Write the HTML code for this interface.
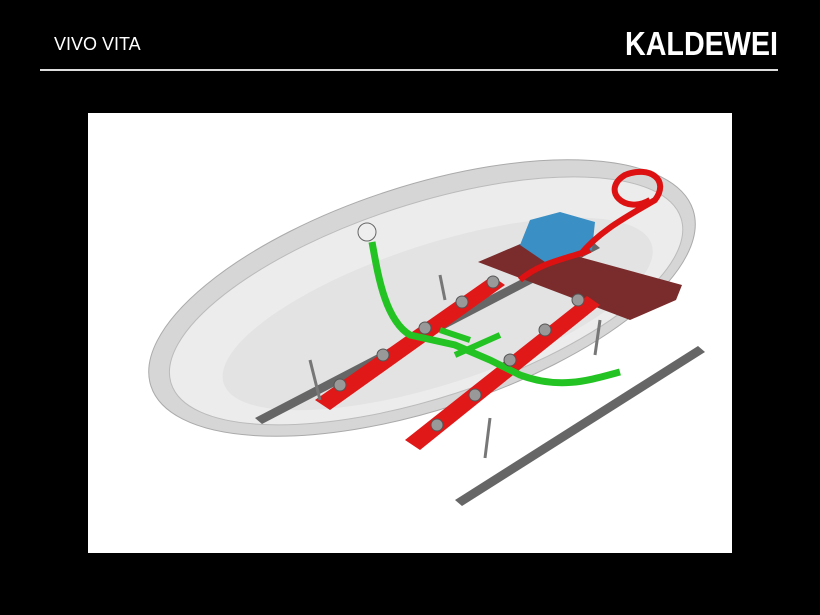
<!DOCTYPE html>
<html><head><style>
html,body{margin:0;padding:0;background:#000;}
</style></head><body>
<svg width="820" height="615" viewBox="0 0 820 615" xmlns="http://www.w3.org/2000/svg" style="display:block">
<rect width="820" height="615" fill="#000"/>
<text x="54" y="50" fill="#fff" font-family="Liberation Sans, sans-serif" font-size="18">VIVO VITA</text>
<text x="625" y="55" fill="#fff" font-family="Liberation Sans, sans-serif" font-weight="bold" font-size="33" textLength="153" lengthAdjust="spacingAndGlyphs">KALDEWEI</text>
<rect x="40" y="69" width="738" height="2" fill="#ddd"/>
<rect x="88" y="113" width="644" height="440" fill="#fff"/>
<!-- tub -->
<g transform="rotate(-18 422 298)">
<ellipse cx="422" cy="298" rx="285" ry="112" fill="#d6d6d6" stroke="#aaa"/>
<ellipse cx="425" cy="302" rx="268" ry="97" fill="#ececec" stroke="#bbb"/>
<ellipse cx="432" cy="318" rx="225" ry="70" fill="#e3e3e3"/>
</g>
<!-- rails -->
<polygon points="255,418 262,424 600,248 593,242" fill="#666"/>
<polygon points="455,500 462,506 705,352 698,346" fill="#666"/>
<!-- platform -->
<polygon points="478,262 525,242 682,285 676,300 630,320" fill="#7a2b2b"/>
<!-- pump -->
<path d="M520,245 L530,220 L560,212 L595,222 L592,250 L545,262 Z" fill="#3a8fc4"/>
<!-- red hose -->
<path d="M580,255 C600,230 630,215 655,200 C670,180 650,165 625,175 C600,190 625,215 650,200" fill="none" stroke="#d11" stroke-width="6"/>
<path d="M520,280 C540,262 570,258 590,250" fill="none" stroke="#d11" stroke-width="6"/>
<!-- red bars -->
<polygon points="315,400 330,410 505,285 492,276" fill="#e01818"/>
<polygon points="405,440 420,450 600,305 587,296" fill="#e01818"/>
<!-- green pipes -->
<path d="M372,242 C378,275 385,320 410,335 L455,345 L490,360 L520,375 C560,390 590,380 620,372" fill="none" stroke="#22c322" stroke-width="7"/>
<path d="M440,330 L470,340 M455,355 L500,335" stroke="#22c322" stroke-width="6"/>
<circle cx="367" cy="232" r="9" fill="#eee" stroke="#666"/>
<!-- jets -->
<g fill="#999" stroke="#555">
<circle cx="340" cy="385" r="6"/><circle cx="383" cy="355" r="6"/><circle cx="425" cy="328" r="6"/><circle cx="462" cy="302" r="6"/><circle cx="493" cy="282" r="6"/>
<circle cx="437" cy="425" r="6"/><circle cx="475" cy="395" r="6"/><circle cx="510" cy="360" r="6"/><circle cx="545" cy="330" r="6"/><circle cx="578" cy="300" r="6"/>
</g>
<!-- feet -->
<g stroke="#777" stroke-width="3" fill="none">
<path d="M310,360 L320,400"/><path d="M440,275 L445,300"/><path d="M490,418 L485,458"/><path d="M600,320 L595,355"/>
</g>
</svg>
</body></html>
